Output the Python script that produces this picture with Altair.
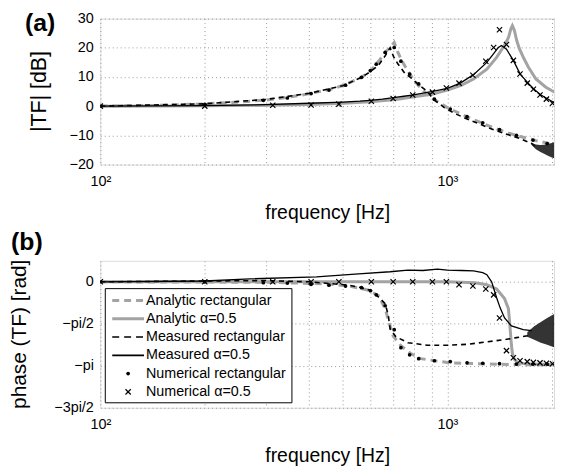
import math
import altair as alt
import pandas as pd

FONT = "Liberation Sans"
GRAY = "#a3a3a3"

# ---------------- data ----------------
# Panel (a): magnitude |TF| in dB
ar_f = [100, 150, 200, 250, 300, 335, 380, 420, 470, 510, 566, 600, 620, 640, 662, 685, 703, 720, 740, 770, 800, 840, 900, 1000, 1100, 1200, 1300, 1400, 1500, 1600, 1800, 2000, 2094]
ar_a = [0, 0.3, 0.8, 1.4, 2.1, 2.8, 3.8, 4.8, 6.0, 7.5, 9.9, 12.0, 14.0, 16.0, 18.4, 20.2, 21.8, 18.5, 15.5, 12.0, 9.0, 6.0, 2.8, -0.5, -2.8, -4.8, -6.5, -8.0, -9.2, -10.2, -11.8, -13.0, -13.5]

aa_f = [100, 200, 300, 400, 500, 600, 720, 800, 900, 1000, 1100, 1190, 1300, 1387, 1460, 1500, 1525, 1540, 1560, 1585, 1612, 1660, 1710, 1800, 1923, 2053, 2094]
aa_a = [0, 0.1, 0.3, 0.6, 1.0, 1.5, 2.4, 3.2, 4.1, 5.5, 7.2, 9.3, 12.7, 16.7, 20.8, 23.5, 26.5, 27.6, 26.0, 22.5, 19.8, 16.5, 13.5, 9.3, 6.5, 4.6, 4.0]

mr_f = [100, 200, 300, 400, 500, 566, 600, 633, 660, 684, 700, 720, 755, 790, 822, 877, 910, 950, 980, 1050, 1140, 1250, 1360, 1500, 1612, 1750, 1800]
mr_a = [0, 0.8, 2.3, 4.4, 7.0, 9.9, 11.8, 14.0, 17.0, 20.0, 17.0, 14.5, 11.2, 9.5, 7.6, 5.0, 2.4, 0.8, -0.5, -2.5, -4.4, -6.3, -8.1, -9.8, -11.0, -12.8, -13.9]

ma_f = [100, 200, 300, 400, 500, 560, 600, 650, 700, 750, 800, 900, 1000, 1090, 1190, 1300, 1360, 1400, 1432, 1481, 1550, 1622, 1710, 1778, 1862, 2000, 2094]
ma_a = [0, 0.2, 0.5, 1.0, 1.4, 1.7, 2.0, 2.4, 2.9, 3.4, 3.9, 5.0, 6.1, 7.9, 10.8, 15.0, 18.0, 20.0, 20.8, 19.5, 15.7, 11.0, 7.9, 5.8, 3.8, 1.7, 0.3]

# noisy part of the measured rectangular magnitude (envelope)
noise_a_f = [1750, 1800, 1850, 1900, 1950, 2000, 2050, 2094]
noise_a_lo = [-13.3, -14.8, -15.6, -16.3, -17.0, -17.6, -18.0, -18.3]
noise_a_hi = [-12.6, -13.1, -13.3, -13.2, -13.0, -12.6, -12.2, -12.0]

# numerical results (markers)
nr_f = [100, 200, 295, 346, 405, 456, 509, 566, 600, 624, 662, 703, 735, 779, 827, 918, 1020, 1140, 1265, 1414, 1582, 1766, 1940]
nr_a = [0, 0.6, 2.0, 2.8, 4.3, 5.5, 7.2, 9.9, 12.2, 14.4, 18.4, 20.1, 15.4, 11.0, 7.6, 2.4, -1.0, -3.6, -5.7, -8.0, -10.0, -11.6, -12.8]
nr_p = [0, 0, -0.02, -0.03, -0.06, -0.08, -0.1, -0.14, -0.21, -0.31, -0.57, -1.14, -1.57, -1.74, -1.83, -1.88, -1.9, -1.93, -1.94, -1.95, -1.96, -1.96, -1.96]

na_f = [100, 200, 314, 405, 487, 604, 698, 795, 906, 994, 1081, 1185, 1291, 1360, 1414, 1481, 1550, 1620, 1700, 1770, 1850, 1930, 2010]
na_a = [0, 0, 0.3, 0.4, 0.7, 1.7, 2.6, 3.8, 4.8, 6.2, 7.9, 10.6, 15.4, 20.1, 26.2, 21.1, 15.7, 11.0, 7.9, 5.8, 3.8, 2.4, 1.0]
na_p = [0, 0, 0, 0, 0, 0, 0, 0, 0, 0, -0.07, -0.1, -0.17, -0.31, -0.86, -1.64, -1.81, -1.88, -1.90, -1.92, -1.93, -1.94, -1.95]

# Panel (b): phase, read in units of pi/2
ar_p_f = [100, 300, 456, 520, 593, 633, 662, 684, 698, 735, 785, 838, 918, 1020, 1217, 1500, 2094]
ar_p = [0, -0.01, -0.05, -0.1, -0.2, -0.33, -0.64, -1.05, -1.29, -1.52, -1.71, -1.83, -1.88, -1.93, -1.95, -1.97, -1.98]

aa_p_f = [100, 1000, 1200, 1300, 1387, 1462, 1500, 1510, 1520, 1530, 1540, 1560, 1600, 1700, 2094]
aa_p = [0, 0, -0.02, -0.07, -0.17, -0.4, -0.64, -0.9, -1.2, -1.5, -1.7, -1.85, -1.93, -1.96, -1.97]

mr_p_f = [100, 200, 300, 400, 456, 520, 566, 604, 633, 662, 676, 684, 711, 770, 877, 1000, 1140, 1300, 1387, 1481, 1582, 1687, 1750]
mr_p = [0, 0.02, 0.03, 0, -0.04, -0.08, -0.14, -0.21, -0.36, -0.52, -0.8, -1.12, -1.31, -1.45, -1.51, -1.51, -1.49, -1.43, -1.40, -1.37, -1.33, -1.29, -1.27]

ma_p_f = [100, 200, 270, 420, 555, 684, 770, 850, 937, 1000, 1100, 1190, 1265, 1300, 1342, 1387, 1420, 1462, 1530, 1655, 1750]
ma_p = [0, 0.02, 0.07, 0.12, 0.19, 0.24, 0.28, 0.27, 0.3, 0.28, 0.27, 0.26, 0.22, 0.17, 0.0, -0.38, -0.62, -0.86, -1.05, -1.14, -1.16]

noise_b_f = [1700, 1780, 1860, 1940, 2020, 2094]
noise_b_lo = [-1.31, -1.38, -1.45, -1.5, -1.55, -1.58]
noise_b_hi = [-1.2, -1.06, -0.96, -0.86, -0.78, -0.74]

legend_labels = ["Analytic rectangular", "Analytic \u03b1=0.5", "Measured rectangular",
                 "Measured \u03b1=0.5", "Numerical rectangular", "Numerical \u03b1=0.5"]

grid_f = [100, 200, 300, 400, 500, 600, 700, 800, 900, 1000, 2000]
mag_ticks = [-20, -10, 0, 10, 20, 30]

# ---------------- helpers ----------------
HP = math.pi / 2


def df(f, v, scale=1.0):
    return pd.DataFrame({"f": f, "v": [x * scale for x in v]})


def band(f, lo, hi, scale=1.0):
    return pd.DataFrame({"f": f, "lo": [x * scale for x in lo], "hi": [x * scale for x in hi]})


W = 457
HA = 147
HB = 148
LABEL_FS = 14.5
TITLE_X_FS = 19.5
TITLE_Y_FS = 21.5

xscale = alt.Scale(type="log", domain=[100, 2030], nice=False)
xaxis = alt.Axis(values=grid_f,
                 labelExpr="datum.value == 100 ? '10\u00b2' : (datum.value == 1000 ? '10\u00b3' : '')",
                 title="frequency [Hz]", grid=True, ticks=False, tickSize=0, domain=False,
                 labelFlush=False, labelPadding=10, titlePadding=16,
                 labelFont=FONT, titleFont=FONT, labelFontSize=LABEL_FS, titleFontSize=TITLE_X_FS,
                 titleFontWeight="normal", labelColor="black", titleColor="black",
                 gridColor="#999999", gridDash=[1, 3], gridWidth=1)

yscale_a = alt.Scale(domain=[-20, 30], nice=False, zero=False)
yaxis_a = alt.Axis(values=mag_ticks, title=None,
                   grid=True, ticks=False, tickSize=0, domain=False, labelPadding=7,
                   labelFont=FONT, labelFontSize=LABEL_FS, labelColor="black",
                   gridColor="#999999", gridDash=[1, 3], gridWidth=1)

yscale_b = alt.Scale(domain=[-3 * HP, HP / 2], nice=False, zero=False)
yaxis_b = alt.Axis(values=[0, -HP, -2 * HP, -3 * HP], title=None,
                   labelExpr="datum.value > -0.5 ? '0' : (datum.value > -2 ? '\u2212pi/2' : (datum.value > -3.5 ? '\u2212pi' : '\u22123pi/2'))",
                   grid=True, ticks=False, tickSize=0, domain=False, labelPadding=7,
                   labelFont=FONT, labelFontSize=LABEL_FS, labelColor="black",
                   gridColor="#999999", gridDash=[1, 3], gridWidth=1)

XPATH = "M-1,-1L1,1M-1,1L1,-1"
dummy = pd.DataFrame({"k": [0]})


def enc(chart, yscale, yaxis, yfield="v"):
    return chart.encode(x=alt.X("f:Q", scale=xscale, axis=xaxis),
                        y=alt.Y(yfield + ":Q", scale=yscale, axis=yaxis))


def line(data, yscale, yaxis, color, width, dash=None):
    kw = dict(color=color, strokeWidth=width, clip=True)
    if dash:
        kw["strokeDash"] = dash
    return enc(alt.Chart(data).mark_line(**kw), yscale, yaxis)


def noise(data, yscale, yaxis):
    return alt.Chart(data).mark_area(color="#111111", opacity=0.85, clip=True).encode(
        x=alt.X("f:Q", scale=xscale, axis=xaxis),
        y=alt.Y("lo:Q", scale=yscale, axis=yaxis),
        y2="hi:Q")


def dots(data, yscale, yaxis):
    return enc(alt.Chart(data).mark_point(shape="circle", filled=True, size=14, color="black",
                                          opacity=1, clip=True), yscale, yaxis)


def crosses(data, yscale, yaxis):
    return enc(alt.Chart(data).mark_point(shape=XPATH, filled=False, size=28, color="black",
                                          strokeWidth=1.2, opacity=1, clip=True), yscale, yaxis)


def label(txt, x, y):
    return alt.Chart(dummy).mark_text(text=txt, font=FONT, fontSize=25, fontWeight="bold",
                                      align="left", baseline="middle", color="black").encode(
        x=alt.value(x), y=alt.value(y))


def ytitle(txt, x, y, size):
    return alt.Chart(dummy).mark_text(text=txt, font=FONT, fontSize=size, angle=270,
                                      align="center", baseline="middle", color="black").encode(
        x=alt.value(x), y=alt.value(y))


DASH_G = [7, 5]
DASH_K = [5, 4]

# ---------------- panel (a) ----------------
panel_a = alt.layer(
    line(df(ar_f, ar_a), yscale_a, yaxis_a, GRAY, 3, DASH_G),
    line(df(aa_f, aa_a), yscale_a, yaxis_a, GRAY, 3),
    line(df(mr_f, mr_a), yscale_a, yaxis_a, "black", 1.6, DASH_K),
    noise(band(noise_a_f, noise_a_lo, noise_a_hi), yscale_a, yaxis_a),
    line(df(ma_f, ma_a), yscale_a, yaxis_a, "black", 1.3),
    dots(df(nr_f, nr_a), yscale_a, yaxis_a),
    crosses(df(na_f, na_a), yscale_a, yaxis_a),
    label("(a)", -76, 4),
    ytitle("|TF| [dB]", -61, HA / 2, TITLE_Y_FS),
).properties(width=W, height=HA)

# ---------------- panel (b) ----------------
rows = [40 + 18.4 * i for i in range(6)]
legend_layers = [
    alt.Chart(dummy).mark_rect(fill="white", stroke="black", strokeWidth=1).encode(
        x=alt.value(5), x2=alt.value(193), y=alt.value(28), y2=alt.value(143)),
    alt.Chart(dummy).mark_rule(color=GRAY, strokeWidth=3, strokeDash=DASH_G).encode(
        x=alt.value(12), x2=alt.value(44), y=alt.value(rows[0])),
    alt.Chart(dummy).mark_rule(color=GRAY, strokeWidth=3).encode(
        x=alt.value(12), x2=alt.value(44), y=alt.value(rows[1])),
    alt.Chart(dummy).mark_rule(color="black", strokeWidth=1.6, strokeDash=DASH_G).encode(
        x=alt.value(12), x2=alt.value(44), y=alt.value(rows[2])),
    alt.Chart(dummy).mark_rule(color="black", strokeWidth=1.6).encode(
        x=alt.value(12), x2=alt.value(44), y=alt.value(rows[3])),
    alt.Chart(dummy).mark_point(shape="circle", filled=True, size=14, color="black", opacity=1).encode(
        x=alt.value(28), y=alt.value(rows[4])),
    alt.Chart(dummy).mark_point(shape=XPATH, filled=False, size=28, color="black",
                                strokeWidth=1.2, opacity=1).encode(
        x=alt.value(28), y=alt.value(rows[5])),
]
for lab, ry in zip(legend_labels, rows):
    legend_layers.append(
        alt.Chart(dummy).mark_text(text=lab, font=FONT, fontSize=14.4, align="left",
                                   baseline="middle", color="black").encode(
            x=alt.value(46), y=alt.value(ry)))

panel_b = alt.layer(
    line(df(ar_p_f, ar_p, HP), yscale_b, yaxis_b, GRAY, 3, DASH_G),
    line(df(aa_p_f, aa_p, HP), yscale_b, yaxis_b, GRAY, 3),
    line(df(mr_p_f, mr_p, HP), yscale_b, yaxis_b, "black", 1.6, DASH_K),
    noise(band(noise_b_f, noise_b_lo, noise_b_hi, HP), yscale_b, yaxis_b),
    line(df(ma_p_f, ma_p, HP), yscale_b, yaxis_b, "black", 1.3),
    dots(df(nr_f, nr_p, HP), yscale_b, yaxis_b),
    crosses(df(na_f, na_p, HP), yscale_b, yaxis_b),
    *legend_layers,
    label("(b)", -90, -19),
    ytitle("phase (TF) [rad]", -81, HB / 2, TITLE_Y_FS - 0.5),
).properties(width=W, height=HB)

chart = alt.vconcat(panel_a, panel_b, spacing=6).properties(
    padding={"left": 0, "right": 0, "top": 0, "bottom": 0}
).configure_view(stroke="black", strokeWidth=1.2).configure(background="white")

chart.save("out.html", embed_options={"renderer": "svg", "actions": False})
